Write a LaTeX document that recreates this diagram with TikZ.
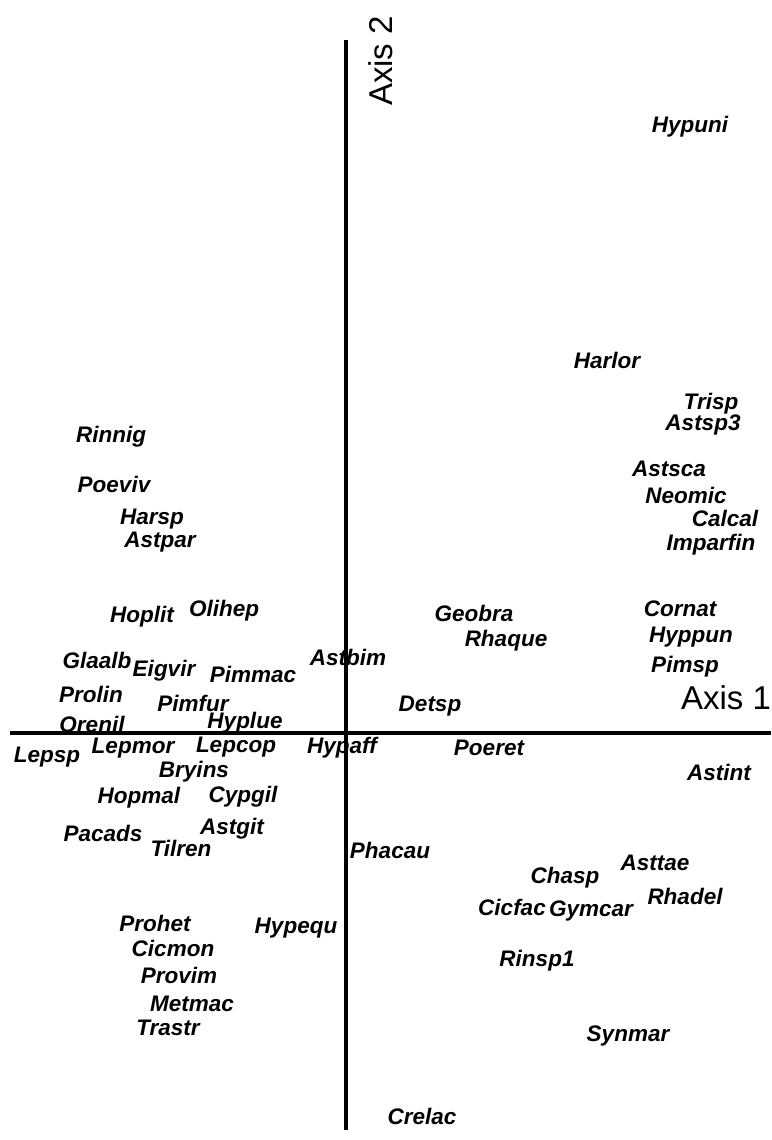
\documentclass[tikz,border=0pt]{standalone}
\usepackage{fontspec}
\setmainfont{Liberation Sans}
\usepackage{tikz}

\begin{document}
\begin{tikzpicture}[x=1pt,y=-1pt,
    sp/.style={font=\fontsize{22.5}{24}\selectfont\bfseries\itshape, inner sep=0pt},
    axlabel/.style={font=\fontsize{33}{36}\selectfont, inner sep=0pt},
    axisline/.style={line width=4.5pt}]
  \useasboundingbox (0,0) rectangle (771,1140);

  % upper right
  \node[sp] (hypuni)   at (690,127)  {Hypuni};
  \node[sp] (harlor)   at (607,360)  {Harlor};
  \node[sp] (trisp)    at (711,404)  {Trisp};
  \node[sp] (astsp3)   at (703,425)  {Astsp3};
  \node[sp] (astsca)   at (669,469)  {Astsca};
  \node[sp] (neomic)   at (686,495)  {Neomic};
  \node[sp] (calcal)   at (725,518)  {Calcal};
  \node[sp] (imparfin) at (711,545)  {Imparfin};
  \node[sp] (cornat)   at (680,609)  {Cornat};
  \node[sp] (hyppun)   at (691,637)  {Hyppun};
  \node[sp] (pimsp)    at (685,667)  {Pimsp};
  \node[sp] (geobra)   at (474,613)  {Geobra};
  \node[sp] (rhaque)   at (506,641)  {Rhaque};
  \node[sp] (astbim)   at (348,657)  {Astbim};
  \node[sp] (detsp)    at (430,706)  {Detsp};

  % upper left
  \node[sp] (rinnig)   at (111,437)  {Rinnig};
  \node[sp] (poeviv)   at (114,484)  {Poeviv};
  \node[sp] (harsp)    at (152,519)  {Harsp};
  \node[sp] (astpar)   at (160,542)  {Astpar};
  \node[sp] (hoplit)   at (142,617)  {Hoplit};
  \node[sp] (olihep)   at (224,611)  {Olihep};
  \node[sp] (glaalb)   at (97,660)   {Glaalb};
  \node[sp] (eigvir)   at (164,671)  {Eigvir};
  \node[sp] (pimmac)   at (253,674)  {Pimmac};
  \node[sp] (prolin)   at (91,694)   {Prolin};
  \node[sp] (pimfur)   at (193,703)  {Pimfur};
  \node[sp] (orenil)   at (92,724)   {Orenil};
  \node[sp] (hyplue)   at (245,723)  {Hyplue};

  % lower left
  \node[sp] (lepsp)    at (47,757)   {Lepsp};
  \node[sp] (lepmor)   at (133,748)  {Lepmor};
  \node[sp] (lepcop)   at (236,747)  {Lepcop};
  \node[sp] (hypaff)   at (342,748)  {Hypaff};
  \node[sp] (bryins)   at (194,772)  {Bryins};
  \node[sp] (hopmal)   at (139,798)  {Hopmal};
  \node[sp] (cypgil)   at (243,797)  {Cypgil};
  \node[sp] (pacads)   at (103,833)  {Pacads};
  \node[sp] (astgit)   at (232,829)  {Astgit};
  \node[sp] (tilren)   at (181,848)  {Tilren};
  \node[sp] (prohet)   at (155,923)  {Prohet};
  \node[sp] (hypequ)   at (296,928)  {Hypequ};
  \node[sp] (cicmon)   at (173,948)  {Cicmon};
  \node[sp] (provim)   at (179,975)  {Provim};
  \node[sp] (metmac)   at (192,1004) {Metmac};
  \node[sp] (trastr)   at (168,1028) {Trastr};

  % lower right
  \node[sp] (poeret)   at (489,748)  {Poeret};
  \node[sp] (astint)   at (719,772)  {Astint};
  \node[sp] (phacau)   at (390,850)  {Phacau};
  \node[sp] (asttae)   at (655,863)  {Asttae};
  \node[sp] (chasp)    at (565,878)  {Chasp};
  \node[sp] (rhadel)   at (685,896)  {Rhadel};
  \node[sp] (cicfac)   at (512,907)  {Cicfac};
  \node[sp] (gymcar)   at (591,911)  {Gymcar};
  \node[sp] (rinsp1)   at (537,961)  {Rinsp1};
  \node[sp] (synmar)   at (628,1036) {Synmar};
  \node[sp] (crelac)   at (422,1116) {Crelac};

  % axes
  \coordinate (xleft)  at (10,733);
  \coordinate (xright) at (771,733);
  \coordinate (ytop)   at (346,40);
  \coordinate (ybot)   at (346,1130);
  \draw[axisline] (xleft) -- (xright);
  \draw[axisline] (ytop) -- (ybot);
  \node[axlabel] (axis1) at (726,698) {Axis 1};
  \node[axlabel, rotate=90] (axis2) at (381,61) {Axis 2};
\end{tikzpicture}
\end{document}
